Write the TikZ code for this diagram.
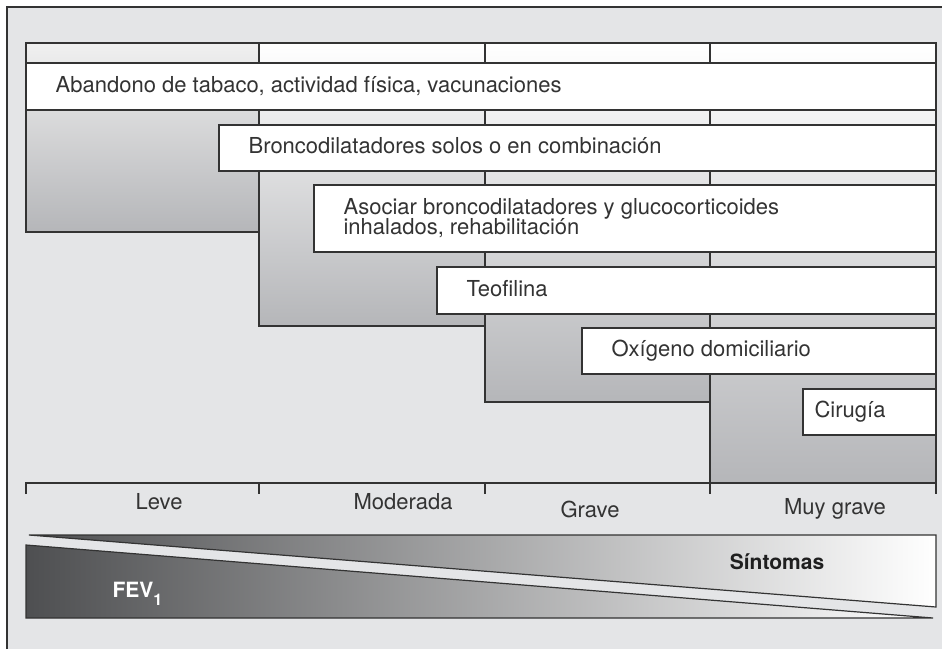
\documentclass[tikz,border=0pt]{standalone}
\usepackage{fontspec}
\setmainfont{TeX Gyre Heros}

\definecolor{fondo}{HTML}{E4E5E7}
\definecolor{tinta}{HTML}{333333}
\definecolor{colbajo}{HTML}{B5B6B9}
\definecolor{oscuro}{HTML}{4E4F51}

\begin{document}
\begin{tikzpicture}[x=1pt,y=-1pt,line width=1.2pt]
            \tikzset{
              columna/.style={draw=tinta,top color=white,bottom color=colbajo},
              barra/.style={draw=tinta,fill=white},
              texto/.style={anchor=base west,inner sep=0pt,text=tinta,font=\fontsize{22}{20}\selectfont},
              grado/.style={anchor=base,inner sep=0pt,text=tinta,font=\fontsize{22}{20}\selectfont}
            }
            \useasboundingbox (0,0) rectangle (942,649);
            \fill [white] (0,0) rectangle (942,649);
            \fill [fondo] (7,7) rectangle (942,649);
            \draw [tinta] (7,649) -- (7,7) -- (942,7);
            \draw [columna,top color=black!6] (26,43) rectangle (259,232);
            \draw [columna] (259,43) rectangle (485,326);
            \draw [columna] (485,43) rectangle (710,402);
            \draw [columna] (710,43) rectangle (936,483);
            \draw [barra] (26,63) rectangle (936,110);
            \draw [barra] (219,125) rectangle (936,171);
            \draw [barra] (314,185) rectangle (936,252);
            \draw [barra] (437,267) rectangle (936,314);
            \draw [barra] (582,328) rectangle (936,374);
            \draw [barra] (803,389) rectangle (936,435);
            \node [texto] (tabaco) at (55,92) {Abandono de tabaco, actividad física, vacunaciones};
            \node [texto] (bronco) at (248,153.5) {Broncodilatadores solos o en combinación};
            \node [texto] (asociar) at (343,214) {Asociar broncodilatadores y glucocorticoides};
            \node [texto] (inhalados) at (343,234) {inhalados, rehabilitación};
            \node [texto] (teofilina) at (466,296) {Teofilina};
            \node [texto] (oxigeno) at (611,356.5) {Oxígeno domiciliario};
            \node [texto] (cirugia) at (814,417) {Cirugía};
            \draw [tinta] (26,494) -- (26,483) -- (936,483) -- (936,494);
            \foreach \x in {259,485,710}
              \draw [tinta] (\x,483) -- (\x,494);
            \node [grado] (leve) at (159,509) {Leve};
            \node [grado] (moderada) at (403,509) {Moderada};
            \node [grado] (grave) at (590,517) {Grave};
            \node [grado] (muygrave) at (835,514) {Muy grave};
            \shade [left color=oscuro,right color=white] (29,535) -- (936,535) -- (936,607) -- cycle;
            \draw [tinta,line join=miter] (29,535) -- (936,535) -- (936,607) -- cycle;
            \shade [left color=oscuro,right color=white] (26,545) -- (26,618) -- (933,618) -- cycle;
            \draw [tinta,line join=miter] (26,545) -- (26,618) -- (933,618) -- cycle;
            \node [grado,text=black!88,font=\fontsize{21}{20}\selectfont\bfseries] (sintomas) at (777,569) {Síntomas};
            \node [texto,text=white,font=\fontsize{21}{20}\selectfont\bfseries] (fev) at (112,597) {FEV\raisebox{-8pt}{\fontsize{16}{16}\selectfont 1}};
        \end{tikzpicture}
\end{document}
